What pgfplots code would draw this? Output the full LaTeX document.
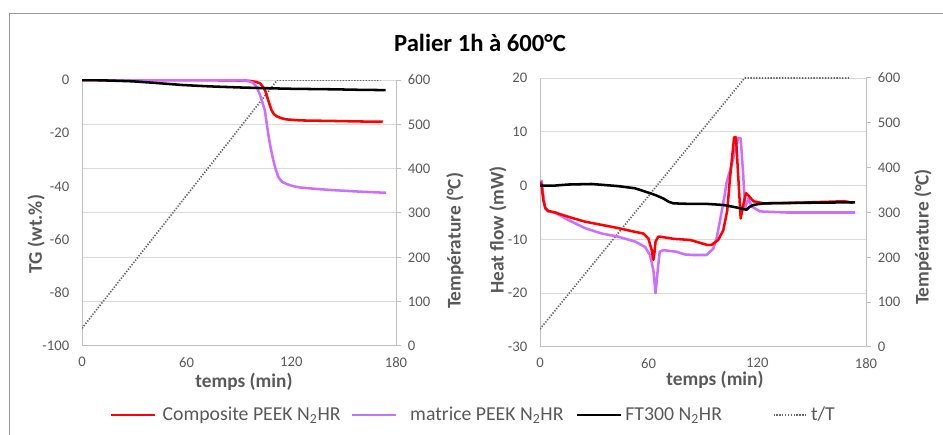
\documentclass[border=0pt]{standalone}
\usepackage{pgfplots}
\pgfplotsset{compat=1.18}
\usepackage{fontspec}
\setmainfont{Carlito}
\definecolor{cred}{RGB}{255,0,0}
\definecolor{cpurple}{RGB}{204,110,255}
\definecolor{txtgray}{RGB}{89,89,89}
\definecolor{axgray}{RGB}{191,191,191}
\definecolor{gridgray}{RGB}{217,217,217}
\definecolor{framegray}{RGB}{150,150,150}
\definecolor{dotgray}{RGB}{105,105,105}
\tikzset{templine/.style={dotgray, line width=1.25pt, dash pattern=on 1pt off 1.15pt}}
\pgfplotsset{
  base/.style={scale only axis, xmin=0, xmax=180, xtick={0,60,120,180}, set layers,
    /pgf/number format/assume math mode=true,
    tick label style={font=\fontsize{11}{13}\selectfont, text=txtgray},
    label style={font=\fontsize{14.5}{17}\selectfont\bfseries, text=txtgray},
    axis line style={-, draw=axgray, line width=0.75pt},
    major tick length=0pt,
    grid style={draw=gridgray, line width=0.75pt},
  },
  tempax/.style={base, ymin=0, ymax=600, ytick={0,100,...,600},
    axis y line*=right, axis x line=none,
    major tick length=3.4pt, tick align=outside,
    ytick style={draw=axgray, line width=0.75pt},
    yticklabel style={xshift=2pt},
    ylabel={Température (°C)}},
  dataline/.style={line width=1.9pt, line join=round},
}
\begin{document}
\begin{tikzpicture}[x=0.75pt,y=0.75pt]
\node[font=\fontsize{18.5}{22}\selectfont\bfseries] at (480,392) {Palier 1h à 600°C};

% ---------- left panel: temperature axis ----------
\begin{axis}[tempax, at={(61.5pt,66.75pt)}, anchor=south west, width=235.5pt, height=199.5pt,
  ymajorgrids,
  ylabel style={at={(axis description cs:1.188,0.395)}, anchor=center}]
\addplot[templine] coordinates {(0,40) (112,600) (171,600)};
\end{axis}

% ---------- left panel: TG axis ----------
\begin{axis}[base, at={(61.5pt,66.75pt)}, anchor=south west, width=235.5pt, height=199.5pt,
  ymin=-100, ymax=0, ytick={-100,-80,...,0}, yticklabels={-100,-80,-60,-40,-20,0},
  xticklabels={0,60,120,180},
  axis x line*=bottom, axis y line*=left,
  yticklabel style={xshift=-6pt}, xticklabel style={yshift=-5pt},
  xlabel={temps (min)}, ylabel={TG (wt.\%)},
  xlabel style={at={(axis description cs:0.516,-0.135)}, anchor=center},
  ylabel style={at={(axis description cs:-0.146,0.421)}, anchor=center}]
\addplot[cred, dataline] coordinates {(0,0) (20,0) (40,0) (60,0) (80,-0.1) (90,-0.2) (95,-0.3) (97,-0.4) (100,-0.8) (102,-1.2) (104,-2.8) (105,-4) (106.7,-7.5) (108.6,-11.3) (110,-12.8) (111.5,-13.6) (114,-14.3) (117,-14.8) (125,-15.2) (144,-15.4) (160,-15.6) (172.4,-15.7)};
\addplot[cpurple, dataline] coordinates {(0,0) (60,0) (90,-0.1) (95,-0.3) (98,-1.0) (100,-2.5) (102,-5.5) (104.8,-11.3) (106.7,-20) (108,-25) (109.6,-30) (111,-33.5) (112.5,-36.4) (114.5,-38.2) (117.3,-39.1) (121,-39.9) (124.9,-40.4) (135,-41) (144,-41.4) (160,-42) (174.3,-42.4)};
\addplot[black, dataline] coordinates {(0,0) (10,-0.1) (20,-0.3) (29,-0.5) (40,-1.0) (50,-1.5) (58,-1.9) (70,-2.3) (77,-2.5) (90,-2.8) (106,-3.1) (120,-3.3) (144,-3.5) (160,-3.7) (174,-3.8)};
\end{axis}

% ---------- right panel: temperature axis ----------
\begin{axis}[tempax, at={(405pt,66pt)}, anchor=south west, width=244.5pt, height=201.75pt,
  ylabel style={at={(axis description cs:1.175,0.409)}, anchor=center}]
\addplot[templine] coordinates {(0,40) (113,600) (171,600)};
\end{axis}

% ---------- right panel: heat flow axis ----------
\begin{axis}[base, at={(405pt,66pt)}, anchor=south west, width=244.5pt, height=201.75pt,
  ymin=-30, ymax=20, ytick={-30,-20,...,20}, yticklabels={-30,-20,-10,0,10,20},
  xticklabels={0,60,120,180}, ymajorgrids,
  axis x line*=bottom, axis y line*=left,
  yticklabel style={xshift=-6pt}, xticklabel style={yshift=-5pt},
  xlabel={temps (min)}, ylabel={Heat flow (mW)},
  xlabel style={at={(axis description cs:0.537,-0.123)}, anchor=center},
  ylabel style={at={(axis description cs:-0.129,0.435)}, anchor=center},
  legend columns=4,
  legend image code/.code={\draw[#1] (0pt,0pt) -- (32.5pt,0pt);},
  legend style={at={(axis description cs:-0.203,-0.252)}, anchor=center, draw=none, fill=none,
    font=\fontsize{14.8}{17}\selectfont, text=txtgray,
    /tikz/column 1/.style={column sep=3pt},
    /tikz/column 2/.style={column sep=5.8pt},
    /tikz/column 3/.style={column sep=8pt},
    /tikz/column 4/.style={column sep=7.3pt},
    /tikz/column 5/.style={column sep=0.75pt},
    /tikz/column 6/.style={column sep=36pt},
    /tikz/column 7/.style={column sep=0.5pt}}]
\addlegendimage{cred, line width=1.9pt}
\addlegendentry{Composite PEEK N\textsubscript{2}HR}
\addlegendimage{cpurple, line width=1.9pt}
\addlegendentry{matrice PEEK N\textsubscript{2}HR}
\addlegendimage{black, line width=1.9pt}
\addlegendentry{FT300 N\textsubscript{2}HR}
\addlegendimage{legend image code/.code={\draw[templine] (0pt,0pt) -- (25pt,0pt);}}
\addlegendentry{t/T}
\addplot[cpurple, dataline, forget plot] coordinates {(0,0.5) (0.9,0.9) (1.5,-1) (2.8,-4.2) (4.5,-4.8) (8.3,-5.0) (15.6,-6.4) (24.8,-7.9) (34,-8.9) (43.2,-9.5) (52.5,-10.4) (58,-11.4) (60.7,-12.9) (62.6,-15.7) (63.8,-20) (65,-15.7) (66.1,-12.3) (68.1,-12.0) (75.5,-12.3) (80,-12.8) (84.6,-12.9) (92,-12.9) (95.7,-11.7) (97.5,-9.8) (99.4,-6.5) (102.1,-1.5) (103.1,0.7) (105.8,3.8) (108.6,7.9) (109.5,8.8) (110.8,8.8) (112.2,2.0) (113.2,-4.2) (115,-2.4) (116.9,-3.9) (121.5,-4.8) (136,-5.0) (174,-5.0)};
\addplot[cred, dataline, forget plot] coordinates {(0,0.7) (0.8,0.3) (1.8,-2.7) (3,-4.2) (4.5,-4.7) (8.3,-5.0) (15.6,-5.8) (24.8,-6.7) (34,-7.3) (43.2,-7.9) (52.5,-8.6) (57,-8.9) (59.8,-9.8) (61.7,-12) (62.6,-13.8) (63.2,-12.5) (63.8,-10.4) (65.3,-9.5) (66.3,-9.5) (74,-9.9) (82.8,-10.1) (88,-10.6) (92,-11.0) (94.8,-11.0) (98.4,-10.1) (101.2,-8.3) (103.4,-4.6) (104.9,1.4) (107.2,9.0) (108.2,9.0) (110.8,-6.1) (112.3,-3.5) (113.7,-1.4) (115.5,-2.0) (117.8,-2.9) (123.3,-3.3) (140,-3.2) (160,-3.0) (168,-2.9) (173,-3.2)};
\addplot[black, dataline, forget plot] coordinates {(0,0) (8,0.0) (15.6,0.2) (28.5,0.3) (36,0.1) (43.2,-0.1) (52.5,-0.5) (55.2,-0.8) (60.7,-1.4) (64,-1.8) (68.1,-2.4) (71,-3.0) (73.6,-3.3) (82.8,-3.4) (92,-3.4) (101.2,-3.6) (106,-3.9) (110.4,-4.2) (114,-4.5) (115.5,-4.0) (117.8,-3.6) (123.3,-3.3) (145.4,-3.2) (174,-3.1)};
\end{axis}
\draw[framegray, line width=0.75pt] (9,-5) -- (9,421) -- (950,421);
\pgfresetboundingbox
\path[use as bounding box] (0,0) rectangle (943,435);
\end{tikzpicture}
\end{document}
